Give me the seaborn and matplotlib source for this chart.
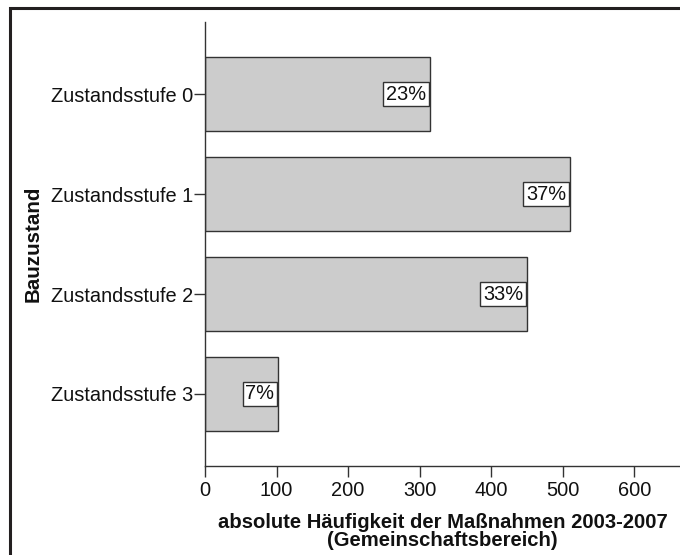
import matplotlib
matplotlib.use("Agg")
import matplotlib.pyplot as plt
import seaborn as sns
import pandas as pd
from matplotlib.patches import Rectangle

categories = ["Zustandsstufe 0", "Zustandsstufe 1", "Zustandsstufe 2", "Zustandsstufe 3"]
counts = [314, 510, 450, 102]
percent_labels = ["23%", "37%", "33%", "7%"]
x_ticks = [0, 100, 200, 300, 400, 500, 600]

sns.set_theme(style="white")
plt.rcParams['font.family'] = ['Liberation Sans', 'DejaVu Sans']

df = pd.DataFrame({"Bauzustand": categories, "n": counts})

fig = plt.figure(figsize=(6.8, 5.55), dpi=100)
ax = fig.add_axes([205/680, 1-466/555, 475/680, (466-22)/555])

sns.barplot(data=df, x="n", y="Bauzustand", orient="h", ax=ax,
            color="#cccccc", saturation=1, width=0.74,
            edgecolor="#333333", linewidth=1.0)

ax.set_xlim(0, 664)
ax.set_ylim(3.72, -0.72)
ax.set_xticks(x_ticks)
ax.set_xticklabels([str(t) for t in x_ticks])

for s in ["top", "right"]:
    ax.spines[s].set_visible(False)
for s in ["left", "bottom"]:
    ax.spines[s].set_color("#333333")
    ax.spines[s].set_linewidth(1.0)

ax.tick_params(axis="both", which="both", direction="out", length=8, width=1,
               color="#333333", labelsize=14.4, labelcolor="#111111",
               left=True, bottom=True)
ax.tick_params(axis="y", pad=0.2)
ax.tick_params(axis="x", pad=3)

ax.set_xlabel("absolute Häufigkeit der Maßnahmen 2003-2007\n(Gemeinschaftsbereich)",
              fontsize=14.6, fontweight="bold", labelpad=9.5, linespacing=0.9,
              color="#111111")
ax.set_ylabel("Bauzustand", fontsize=14.8, fontweight="bold", labelpad=6,
              color="#111111")

for i, (v, lab) in enumerate(zip(counts, percent_labels)):
    ax.annotate(lab, xy=(v, i), xytext=(-2.6, 0), textcoords="offset points",
                ha="right", va="center", fontsize=14.4, color="#111111",
                bbox=dict(boxstyle="square,pad=0.14", fc="white", ec="#333333", lw=1.0))

fig.patches.append(Rectangle((10/680, -0.1), 1.2, 1 - 8/555 + 0.1,
                             transform=fig.transFigure, fill=False,
                             edgecolor="#231f20", linewidth=2.2, figure=fig))

fig.savefig("out.png", dpi=100)
